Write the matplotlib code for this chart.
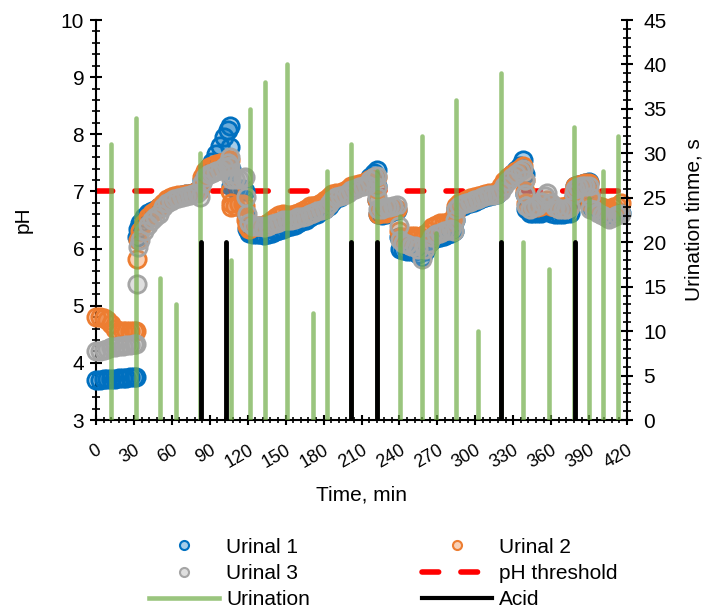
import matplotlib
matplotlib.use('Agg')
import matplotlib.pyplot as plt
from matplotlib.colors import to_rgba
from matplotlib.lines import Line2D
from matplotlib.ticker import MultipleLocator

plt.rcParams['font.family'] = ['Liberation Sans', 'DejaVu Sans']

# pH readings of the three urinals, minutes since start
time_min = [0, 3, 6, 9, 12, 15, 18, 21, 24, 27, 30, 32,
            32.5, 33, 35, 38, 41, 44, 47, 50, 53, 56, 59, 62, 65, 68, 71, 74, 77, 80, 82,
            84, 86, 89, 92, 95, 98, 101, 104, 106,
            106.3, 106.6, 107, 110, 113, 116, 118,
            119, 119.5, 121, 124, 127, 130, 133, 136, 139, 142, 145, 148,
            151, 154, 157, 160, 163, 166, 169, 172, 175, 178,
            181, 184, 187, 190, 193, 196, 199, 202, 205, 208,
            211, 214, 217, 220, 222,
            222.3, 222.6, 223, 226, 229, 232, 235, 238,
            240, 240.5, 243, 246, 249, 252, 255, 258, 260, 263, 266, 269, 272, 275, 278, 281, 283,
            284, 284.5, 287, 290, 293, 296, 299, 302, 305, 308, 311, 314, 317, 320, 323, 326, 329, 332, 335, 338,
            339, 339.5, 340, 343, 346, 349, 352, 355, 357, 360, 363, 366, 369, 372, 375,
            378, 378.5, 381, 384, 387, 390,
            390.5, 391, 394, 397, 400, 403, 406, 409, 412, 415]

urinal_1 = [3.70, 3.70, 3.71, 3.71, 3.72, 3.72, 3.73, 3.74, 3.74, 3.75, 3.76, 3.76,
            6.20, 6.35, 6.45, 6.55, 6.62, 6.65, 6.68, 6.72, 6.78, 6.85, 6.88, 6.90, 6.92, 6.93, 6.95, 6.96, 6.98, 7.00, 7.05,
            7.20, 7.32, 7.42, 7.52, 7.65, 7.80, 7.95, 8.08, 8.15,
            7.78, 7.40, 7.10, 7.05, 7.05, 7.05, 7.00,
            6.60, 6.35, 6.28, 6.25, 6.25, 6.25, 6.24, 6.25, 6.27, 6.30, 6.32, 6.35,
            6.38, 6.40, 6.42, 6.45, 6.48, 6.50, 6.55, 6.58, 6.60, 6.65,
            6.70, 6.75, 6.82, 6.88, 6.90, 6.95, 7.00, 7.08, 7.10, 7.10,
            7.12, 7.15, 7.25, 7.33, 7.37,
            7.10, 6.85, 6.60, 6.58, 6.60, 6.62, 6.65, 6.68,
            6.20, 6.00, 5.97, 5.95, 5.95, 5.96, 5.90, 5.85, 5.95, 6.10, 6.15, 6.18, 6.20, 6.22, 6.25, 6.28, 6.30,
            6.50, 6.70, 6.72, 6.75, 6.78, 6.80, 6.82, 6.85, 6.88, 6.90, 6.92, 6.94, 6.96, 7.05, 7.15, 7.22, 7.30, 7.37, 7.45, 7.55,
            7.30, 6.95, 6.70, 6.63, 6.62, 6.62, 6.63, 6.65, 6.68, 6.62, 6.60, 6.60, 6.60, 6.62, 6.63,
            6.90, 7.10, 7.12, 7.13, 7.15, 7.17,
            6.95, 6.75, 6.72, 6.70, 6.65, 6.60, 6.58, 6.58, 6.60, 6.62]

urinal_2 = [4.80, 4.80, 4.78, 4.75, 4.68, 4.60, 4.56, 4.55, 4.55, 4.55, 4.55, 4.55,
            5.82, 6.15, 6.30, 6.45, 6.55, 6.62, 6.66, 6.72, 6.80, 6.86, 6.90, 6.92, 6.93, 6.94, 6.95, 6.96, 6.98, 7.00, 7.02,
            7.25, 7.35, 7.42, 7.45, 7.48, 7.50, 7.52, 7.55, 7.55,
            7.00, 6.80, 6.72, 6.75, 6.78, 6.78, 6.75,
            6.50, 6.40, 6.35, 6.38, 6.40, 6.40, 6.42, 6.45, 6.50, 6.55, 6.58, 6.60,
            6.58, 6.58, 6.60, 6.62, 6.65, 6.70, 6.75, 6.75, 6.77, 6.80,
            6.85, 6.90, 6.95, 6.97, 6.98, 7.00, 7.05, 7.10, 7.12, 7.13,
            7.15, 7.18, 7.22, 7.25, 7.25,
            7.05, 6.85, 6.60, 6.62, 6.63, 6.65, 6.67, 6.70,
            6.30, 6.20, 6.20, 6.20, 6.22, 6.22, 6.20, 6.18, 6.25, 6.30, 6.38, 6.42, 6.45, 6.45, 6.47, 6.48, 6.50,
            6.60, 6.75, 6.80, 6.82, 6.85, 6.88, 6.90, 6.92, 6.93, 6.95, 6.97, 6.98, 7.00, 7.10, 7.18, 7.25, 7.30, 7.35, 7.40, 7.45,
            7.20, 7.00, 6.80, 6.75, 6.74, 6.73, 6.75, 6.80, 6.85, 6.75, 6.72, 6.72, 6.73, 6.74, 6.75,
            7.00, 7.10, 7.12, 7.13, 7.14, 7.15,
            6.97, 6.80, 6.78, 6.75, 6.72, 6.70, 6.70, 6.72, 6.75, 6.80]

urinal_3 = [4.20, 4.21, 4.22, 4.24, 4.27, 4.28, 4.29, 4.30, 4.31, 4.32, 4.33, 4.33,
            5.38, 6.03, 6.15, 6.30, 6.42, 6.50, 6.55, 6.60, 6.72, 6.80, 6.84, 6.86, 6.88, 6.90, 6.92, 6.93, 6.95, 6.97, 6.90,
            7.15, 7.25, 7.30, 7.32, 7.35, 7.38, 7.42, 7.50, 7.60,
            7.45, 7.30, 7.22, 7.22, 7.22, 7.24, 7.25,
            6.90, 6.60, 6.45, 6.40, 6.40, 6.40, 6.38, 6.40, 6.43, 6.45, 6.47, 6.50,
            6.50, 6.50, 6.52, 6.55, 6.55, 6.57, 6.60, 6.62, 6.65, 6.68,
            6.70, 6.78, 6.85, 6.90, 6.92, 6.94, 6.97, 7.02, 7.05, 7.07,
            7.10, 7.12, 7.20, 7.25, 7.27,
            7.08, 6.90, 6.70, 6.70, 6.72, 6.72, 6.75, 6.76,
            6.40, 6.15, 6.10, 6.08, 6.05, 6.05, 6.00, 5.82, 6.00, 6.10, 6.20, 6.25, 6.28, 6.30, 6.32, 6.35, 6.30,
            6.50, 6.70, 6.75, 6.78, 6.80, 6.82, 6.85, 6.87, 6.90, 6.92, 6.93, 6.94, 6.96, 7.00, 7.10, 7.18, 7.25, 7.30, 7.35, 7.40,
            7.20, 6.95, 6.75, 6.70, 6.72, 6.75, 6.82, 6.92, 6.97, 6.80, 6.72, 6.70, 6.70, 6.70, 6.72,
            6.95, 7.05, 7.08, 7.10, 7.10, 7.10,
            6.90, 6.70, 6.68, 6.62, 6.58, 6.55, 6.52, 6.55, 6.58, 6.60]

ph_threshold = 7.0

# urination events and acid dosing (right axis, seconds)
urination_time = [12, 32, 51, 63, 82.5, 107, 122, 134, 151, 172, 183, 202, 222,
                  240.5, 258, 269, 285, 302, 320, 338, 358, 378, 390, 401, 413]
urination_s = [31, 34, 16, 13, 30, 18, 35, 38, 40, 12, 28, 31, 28,
               23, 32, 21, 36, 10, 39, 20, 17, 33, 25, 28, 32]
acid_time = [83, 103, 202, 222, 320, 379]
acid_s = [20, 20, 20, 20, 20, 20]

fig = plt.figure(figsize=(7.07, 6.08), dpi=100)
ax = fig.add_axes([0.1358, 0.3092, 0.7511, 0.6579])
ax2 = ax.twinx()

series = [(urinal_1, '#0070C0'),
          (urinal_2, '#ED7D31'),
          (urinal_3, '#A5A5A5')]
for vals, c in series:
    ax.plot(time_min, vals, ls='none', marker='o', ms=12.5, mec=c,
            mfc=to_rgba(c, 0.35), mew=2, clip_on=False, zorder=3)

ax.axhline(ph_threshold, color='red', lw=4, ls=(0, (3, 4)),
           dash_capstyle='round', zorder=2)

ax2.vlines(urination_time, 0, urination_s, color='#70AD47', alpha=0.7,
           lw=3.3, capstyle='round')
ax2.vlines(acid_time, 0, acid_s, color='black', lw=3.5, capstyle='round')

ax.set_xlim(0, 420)
ax.set_ylim(3, 10)
ax2.set_ylim(0, 45)

ax.xaxis.set_major_locator(MultipleLocator(30))
ax.xaxis.set_minor_locator(MultipleLocator(6))
ax.yaxis.set_major_locator(MultipleLocator(1))
ax.yaxis.set_minor_locator(MultipleLocator(0.2))
ax2.yaxis.set_major_locator(MultipleLocator(5))
ax2.yaxis.set_minor_locator(MultipleLocator(1))

for a in (ax, ax2):
    a.spines['top'].set_visible(False)
    for s in a.spines.values():
        s.set_linewidth(1.5)
ax.spines['right'].set_visible(False)
ax2.spines['left'].set_visible(False)
ax2.spines['bottom'].set_visible(False)

ax.tick_params(axis='y', which='major', direction='inout', length=9, width=1.5,
               labelsize=15, pad=4)
ax.tick_params(axis='y', which='minor', direction='inout', length=6, width=1.2)
ax2.tick_params(axis='y', which='major', direction='inout', length=9, width=1.5,
                labelsize=15, pad=7)
ax2.tick_params(axis='y', which='minor', direction='inout', length=6, width=1.2)
ax.tick_params(axis='x', which='major', direction='inout', length=7, width=1.5,
               labelsize=13, pad=12, labelrotation=30)
ax.tick_params(axis='x', which='minor', direction='inout', length=5, width=1.2)
for lbl in ax.get_xticklabels():
    lbl.set_ha('right')
    lbl.set_rotation_mode('anchor')

ax.set_xlabel('Time, min', fontsize=15, labelpad=10)
ax.set_ylabel('pH', fontsize=15, labelpad=20)
ax2.set_ylabel('Urination tinme, s', fontsize=15, labelpad=13)

leg_handles = [
    Line2D([], [], ls='none', marker='o', ms=6.5, mec='#0070C0', mfc=to_rgba('#0070C0', 0.35), mew=1.5),
    Line2D([], [], ls='none', marker='o', ms=6.5, mec='#A5A5A5', mfc=to_rgba('#A5A5A5', 0.35), mew=1.5),
    Line2D([], [], color='#70AD47', alpha=0.7, lw=3.3),
    Line2D([], [], ls='none', marker='o', ms=6.5, mec='#ED7D31', mfc=to_rgba('#ED7D31', 0.35), mew=1.5),
    Line2D([], [], color='red', lw=4, ls=(0, (3, 4)), dash_capstyle='round'),
    Line2D([], [], color='black', lw=3),
]
leg_labels = ['Urinal 1', 'Urinal 3', 'Urination', 'Urinal 2', 'pH threshold', 'Acid']
fig.legend(leg_handles, leg_labels, ncol=2, loc='center', bbox_to_anchor=(0.5424, 0.057),
           frameon=False, fontsize=15, handlelength=3.36, handletextpad=0.33,
           columnspacing=5.4, labelspacing=0.35)

fig.savefig('out.png', dpi=100)
